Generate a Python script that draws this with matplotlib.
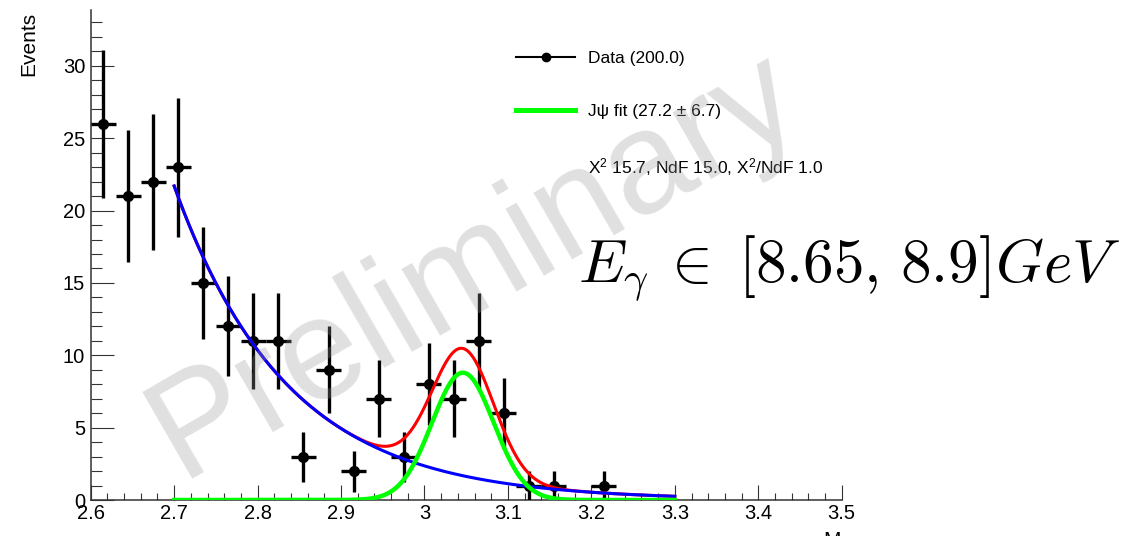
import numpy as np
import matplotlib
matplotlib.use("Agg")
import matplotlib.pyplot as plt
from matplotlib.lines import Line2D
from matplotlib.ticker import MultipleLocator, FuncFormatter

plt.rcParams['font.family'] = ['Liberation Sans', 'DejaVu Sans']
plt.rcParams['mathtext.fontset'] = 'custom'
plt.rcParams['mathtext.rm'] = 'Liberation Sans'
plt.rcParams['mathtext.it'] = 'Liberation Sans:italic'
plt.rcParams['mathtext.bf'] = 'Liberation Sans:bold'

# ---- histogram: invariant-mass spectrum, 30 bins of 0.03 from 2.6 to 3.5
bin_lo = 2.6
bin_width = 0.03
counts = [26, 21, 22, 23, 15, 12, 11, 11, 3, 9, 2, 7, 3, 8, 7, 11, 6, 1, 1, 0,
          1, 0, 0, 0, 0, 0, 0, 0, 0, 0]

# ---- fit result: exponential background + gaussian J/psi peak
fit_lo, fit_hi = 2.7, 3.3
bkg_amp = 21.7        # background at fit_lo
bkg_slope = 7.4
sig_yield = 27.2
sig_yield_err = 6.7
sig_mean = 3.046
sig_sigma = 0.037
chi2, ndf = 15.7, 15.0

counts = np.array(counts, dtype=float)
centers = bin_lo + bin_width * (np.arange(len(counts)) + 0.5)
keep = counts > 0

W, H = 1139, 536
fig = plt.figure(figsize=(W / 100, H / 100), dpi=100)
ax = fig.add_axes([90.7 / W, 36 / H, (841.7 - 90.7) / W, 490 / H])

ax.errorbar(centers[keep], counts[keep], yerr=np.sqrt(counts[keep]),
            xerr=bin_width / 2, fmt='o', color='black', ms=7,
            elinewidth=2.4, capsize=0, zorder=3)

xf = np.linspace(fit_lo, fit_hi, 600)
bkg = bkg_amp * np.exp(-bkg_slope * (xf - fit_lo))
sig = sig_yield * bin_width / (sig_sigma * np.sqrt(2 * np.pi)) * \
    np.exp(-0.5 * ((xf - sig_mean) / sig_sigma) ** 2)
ax.plot(xf, bkg + sig, color='#ff0000', lw=2.2, zorder=4)
ax.plot(xf, bkg, color='#0000ff', lw=2.2, zorder=5)
ax.plot(xf, sig, color='#00ff00', lw=3.2, zorder=6)

ax.set_xlim(2.6, 3.5)
ax.set_ylim(0, 33.86)
for s in ('top', 'right'):
    ax.spines[s].set_visible(False)
for s in ('left', 'bottom'):
    ax.spines[s].set_color('#333333')
    ax.spines[s].set_linewidth(1.1)

ax.xaxis.set_major_locator(MultipleLocator(0.1))
ax.xaxis.set_minor_locator(MultipleLocator(0.02))
ax.yaxis.set_major_locator(MultipleLocator(5))
ax.yaxis.set_minor_locator(MultipleLocator(1))
ax.xaxis.set_major_formatter(FuncFormatter(lambda v, p: f"{round(v, 2):g}"))
ax.tick_params(axis='x', which='major', direction='in', length=10.8, width=0.8,
               color='#333333', labelsize=14.5, pad=3)
ax.tick_params(axis='x', which='minor', direction='in', length=5.4, width=0.8,
               color='#333333')
ax.tick_params(axis='y', which='major', direction='in', length=16.3, width=0.8,
               color='#333333', labelsize=14.5, pad=4)
ax.tick_params(axis='y', which='minor', direction='in', length=8.2, width=0.8,
               color='#333333')

handles = [Line2D([], [], color='black', lw=1.5, marker='o', ms=6),
           Line2D([], [], color='#00ff00', lw=3.6),
           Line2D([], [], color='none')]
labels = [f"Data ({counts.sum():.1f})",
          f"J\u03c8 fit ({sig_yield:.1f} \u00b1 {sig_yield_err:.1f})",
          f"X$^2$ {chi2:.1f}, NdF {ndf:.1f}, X$^2$/NdF {chi2 / ndf:.1f}"]
ax.legend(handles, labels, loc='upper left',
          bbox_to_anchor=(516 / W, 1 - 51 / H), bbox_transform=fig.transFigure,
          frameon=False, fontsize=12.5, handlelength=3.4, handletextpad=0.72,
          labelspacing=2.15, borderpad=0, borderaxespad=0)

fig.text(578 / W, 1 - 282 / H, r'$E_{\gamma}\:\in\;[8.65,\,8.9]GeV$',
         math_fontfamily='cm', fontsize=44, ha='left', va='baseline')

fig.text(28.5 / W, 1 - 12 / H, 'Events', rotation=90, ha='center', va='top',
         fontsize=15)
fig.text(823 / W, 1 - 531 / H, 'M', ha='left', va='top', fontsize=15)

fig.text(474 / W, 1 - 266 / H, 'Preliminary', rotation=30,
         rotation_mode='anchor', ha='center', va='center', fontsize=104,
         color='#999999', alpha=0.3, zorder=10)

fig.savefig('out.png', dpi=100)
